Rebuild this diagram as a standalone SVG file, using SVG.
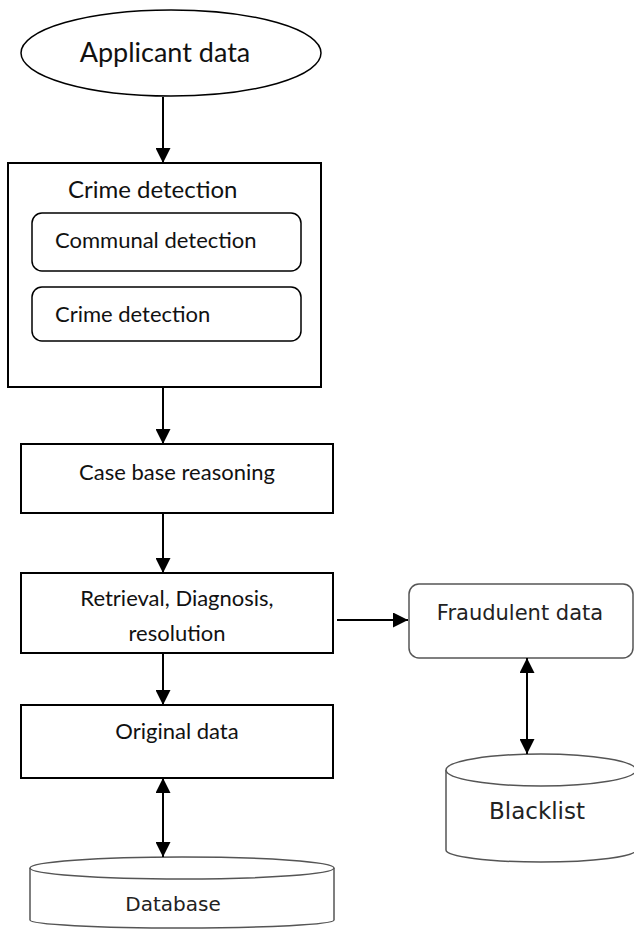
<svg xmlns="http://www.w3.org/2000/svg" width="634" height="930" viewBox="0 0 634 930">
<style>
.box{fill:#fff;stroke:#000;stroke-width:2}
.rbox{fill:#fff;stroke:#000;stroke-width:1.5}
.gray{fill:#fff;stroke:#555;stroke-width:1.5}
.t{font-family:Lato,"Open Sans","Liberation Sans",sans-serif;fill:#111}
.tt{font-family:"DejaVu Sans","Liberation Sans",sans-serif;fill:#222}
.c{stroke:#000;stroke-width:2;fill:none}
</style>
<defs>
<marker id="ah" viewBox="0 0 10 10" refX="10" refY="5" markerWidth="15" markerHeight="15" markerUnits="userSpaceOnUse" orient="auto-start-reverse"><path d="M0,0 L10,5 L0,10 Z" fill="#000"/></marker>
</defs>
<rect width="634" height="930" fill="#fff"/>
<g id="applicant">
<ellipse cx="171" cy="53" rx="150" ry="43" fill="#fff" stroke="#000" stroke-width="1.5"/>
<text class="t" x="165" y="62" font-size="27" text-anchor="middle">Applicant data</text>
</g>
<g id="crime-box">
<rect class="box" x="8" y="163" width="313" height="224"/>
<text class="t" x="68" y="198" font-size="24">Crime detection</text>
</g>
<g id="communal">
<rect class="rbox" x="32" y="213" width="269" height="58" rx="10"/>
<text class="t" x="55" y="248" font-size="22">Communal detection</text>
</g>
<g id="crime-inner">
<rect class="rbox" x="32" y="287" width="269" height="54" rx="10"/>
<text class="t" x="55" y="322" font-size="22">Crime detection</text>
</g>
<g id="cbr">
<rect class="box" x="21" y="444" width="312" height="69"/>
<text class="t" x="177" y="480" font-size="22" text-anchor="middle">Case base reasoning</text>
</g>
<g id="retrieval">
<rect class="box" x="21" y="573" width="312" height="80"/>
<text class="t" x="177" y="606" font-size="22" text-anchor="middle">Retrieval, Diagnosis,</text>
<text class="t" x="177" y="641" font-size="22" text-anchor="middle">resolution</text>
</g>
<g id="original">
<rect class="box" x="21" y="705" width="312" height="73"/>
<text class="t" x="177" y="739" font-size="22" text-anchor="middle">Original data</text>
</g>
<g id="database">
<path class="gray" d="M30,868 L30,920 A152,8 0 0 0 334,920 L334,868"/>
<ellipse class="gray" cx="182" cy="868" rx="152" ry="11"/>
<text class="tt" x="173" y="911" font-size="20" text-anchor="middle">Database</text>
</g>
<g id="fraudulent">
<rect class="gray" x="409" y="584" width="224" height="74" rx="10"/>
<text class="tt" x="520" y="620" font-size="21" text-anchor="middle">Fraudulent data</text>
</g>
<g id="blacklist">
<path class="gray" d="M446,770 L446,850 A95,12 0 0 0 636,850 L636,770"/>
<ellipse class="gray" cx="541" cy="770" rx="95" ry="16"/>
<text class="tt" x="537" y="819" font-size="23" text-anchor="middle">Blacklist</text>
</g>
<g id="connectors">
<line class="c" x1="163" y1="97" x2="163" y2="163" marker-end="url(#ah)"/>
<line class="c" x1="163" y1="387" x2="163" y2="444" marker-end="url(#ah)"/>
<line class="c" x1="163" y1="513" x2="163" y2="573" marker-end="url(#ah)"/>
<line class="c" x1="163" y1="653" x2="163" y2="705" marker-end="url(#ah)"/>
<line class="c" x1="163" y1="778" x2="163" y2="857" marker-start="url(#ah)" marker-end="url(#ah)"/>
<line class="c" x1="337" y1="620" x2="408" y2="620" marker-end="url(#ah)"/>
<line class="c" x1="527" y1="658" x2="527" y2="754" marker-start="url(#ah)" marker-end="url(#ah)"/>
</g>
</svg>
